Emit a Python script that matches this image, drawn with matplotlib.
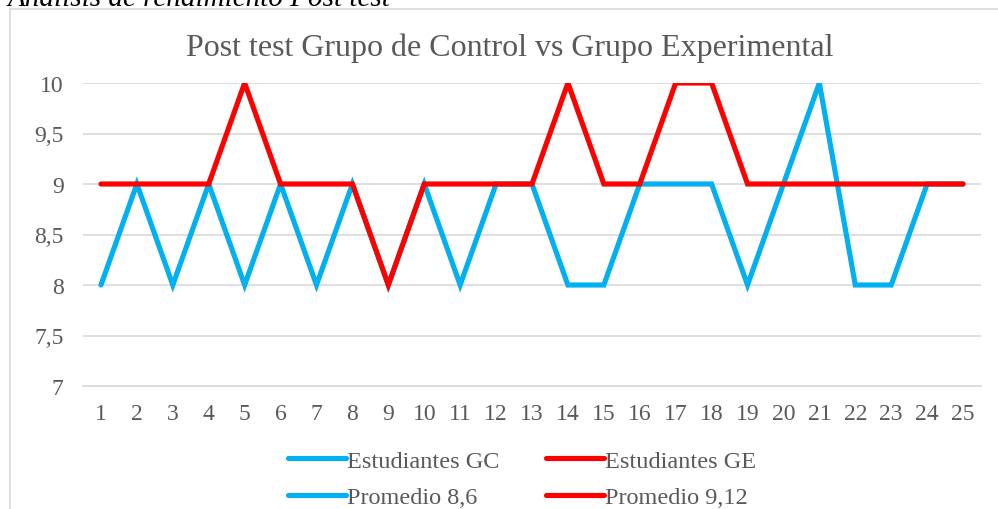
import matplotlib
matplotlib.use("Agg")
import matplotlib.pyplot as plt
from matplotlib.lines import Line2D
from matplotlib.patches import Rectangle

plt.rcParams["font.family"] = ["Liberation Serif", "DejaVu Serif"]

estudiantes = list(range(1, 26))
notas_gc = [8, 9, 8, 9, 8, 9, 8, 9, 8, 9, 8, 9, 9, 8, 8, 9, 9, 9, 8, 9, 10, 8, 8, 9, 9]
notas_ge = [9, 9, 9, 9, 10, 9, 9, 9, 8, 9, 9, 9, 9, 10, 9, 9, 10, 10, 9, 9, 9, 9, 9, 9, 9]
y_ticks = [7, 7.5, 8, 8.5, 9, 9.5, 10]
y_labels = ["7", "7,5", "8", "8,5", "9", "9,5", "10"]
serie_labels = ["Estudiantes GC", "Estudiantes GE", "Promedio 8,6", "Promedio 9,12"]
serie_colors = ["#00B0F0", "#FF0000", "#00B0F0", "#FF0000"]

BLUE = "#00B0F0"
RED = "#FF0000"
GRAY = "#595959"
GRID = "#D9D9D9"

W, H = 998, 510
fig = plt.figure(figsize=(W / 100, H / 100), dpi=100)

# chart frame (cut off at the bottom/right like the source)
fig.add_artist(Rectangle((10 / W, -0.05), (W + 20) / W, 1 - 10 / H + 0.05,
                         transform=fig.transFigure, fill=False,
                         edgecolor=GRID, lw=1.2))

# italic heading partly cut off at top
fig.text(8 / W, 1 - 6 / H, "Análisis de rendimiento Post test", fontsize=21,
         style="italic", color="black", ha="left", va="baseline")

ax = fig.add_axes([83 / W, 1 - 387 / H, (981 - 83) / W, (387 - 84) / H])
ax.plot(estudiantes, notas_gc, color=BLUE, lw=3.7, solid_capstyle="round",
        solid_joinstyle="miter", zorder=3)
ax.plot(estudiantes, notas_ge, color=RED, lw=3.7, solid_capstyle="round",
        solid_joinstyle="miter", zorder=4)

ax.set_xlim(0.5, 25.5)
ax.set_ylim(7, 10)
ax.set_yticks(y_ticks)
ax.set_yticklabels(y_labels)
ax.set_xticks(estudiantes)
ax.set_xticklabels([str(e) for e in estudiantes])
ax.tick_params(axis="both", length=0, labelsize=17, colors=GRAY)
ax.tick_params(axis="y", pad=14)
ax.tick_params(axis="x", pad=12)
ax.grid(axis="y", color=GRID, lw=1.2)
ax.set_axisbelow(True)
for s in ax.spines.values():
    s.set_visible(False)
ax.spines["bottom"].set_visible(True)
ax.spines["bottom"].set_color(GRID)
ax.spines["bottom"].set_linewidth(1.2)

fig.text(510 / W, 1 - 48 / H, "Post test Grupo de Control vs Grupo Experimental",
         fontsize=23, color=GRAY, ha="center", va="center")

# column-wise fill: GC / Promedio 8,6 in first column, GE / Promedio 9,12 in second
order = [0, 2, 1, 3]
handles = [Line2D([], [], color=serie_colors[i], lw=3.7, solid_capstyle="round")
           for i in order]
leg = fig.legend(handles, [serie_labels[i] for i in order], loc="center", ncol=2,
                 bbox_to_anchor=(522 / W, 1 - 480 / H), frameon=False,
                 fontsize=17.5, handlelength=2.4, handletextpad=0.05,
                 columnspacing=1.9, labelspacing=0.6)
for t in leg.get_texts():
    t.set_color(GRAY)

fig.savefig("out.png", dpi=100, facecolor="white")
